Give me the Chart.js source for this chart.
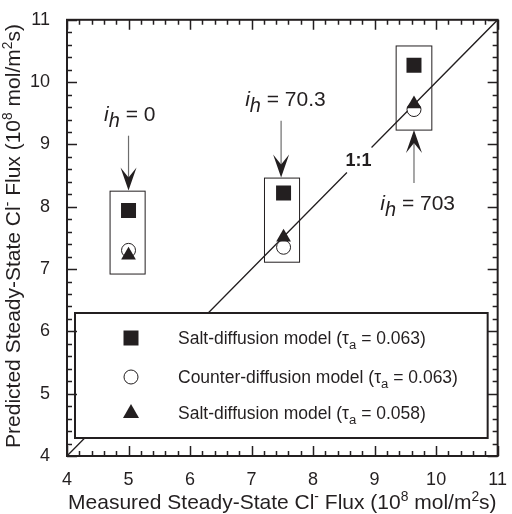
<!DOCTYPE html>
<html>
<head>
<meta charset="utf-8">
<script src="https://cdn.jsdelivr.net/npm/chart.js@4"></script>
<style>
  body { margin: 0; background: #fff; }
  canvas { display: block; }
</style>
</head>
<body>
<canvas id="chart" width="512" height="514"></canvas>
<script>
const FONT = '"Liberation Sans", Arial, Helvetica, sans-serif'
const INK = '#231f20'

// one group per i_h value
const groupLabels = ['0', '70.3', '703']
const measuredFlux = [5.0, 7.52, 9.64]
const saltFlux063 = [7.94, 8.22, 10.27]
const counterFlux063 = [7.30, 7.35, 9.56]
const saltFlux058 = [7.22, 7.51, 9.65]

// enclosing box around each group
const boxXMin = [4.70, 7.21, 9.35]
const boxXMax = [5.27, 7.78, 9.93]
const boxYMin = [6.92, 7.11, 9.23]
const boxYMax = [8.25, 8.46, 10.58]

// 1:1 reference line, broken where its label sits
const oneToOneX = [4, 8.55, 8.75, 8.95, 11]
const oneToOneY = [4, 8.55, null, 8.95, 11]

const legendLabels = [
  ['Salt-diffusion model (', '0.063)'],
  ['Counter-diffusion model (', '0.063)'],
  ['Salt-diffusion model (', '0.058)'],
]

const toPoints = (xs, ys) => xs.map((x, i) => ({ x, y: ys[i] }))

// draws a run of text pieces, some raised or lowered
function drawRich(ctx, parts, x, y, size, align) {
  const fontOf = (p) => `${p.italic ? 'italic ' : ''}${p.bold ? 'bold ' : ''}${(p.sup || p.sub) ? size * p.scale : size}px ${FONT}`
  let width = 0
  parts.forEach((p) => {
    p.scale = p.scale || (p.sub ? 0.72 : 0.66)
    ctx.font = fontOf(p)
    p.w = ctx.measureText(p.t).width
    width += p.w
  })
  let cx = align === 'center' ? x - width / 2 : x
  ctx.textAlign = 'left'
  ctx.textBaseline = 'alphabetic'
  parts.forEach((p) => {
    ctx.font = fontOf(p)
    let dy = 0
    if (p.sup) dy = -size * 0.4
    if (p.sub) dy = size * (p.drop || 0.25)
    ctx.fillText(p.t, cx, y + dy)
    cx += p.w
  })
}

function drawMarker(ctx, style, x, y) {
  ctx.save()
  ctx.fillStyle = INK
  ctx.strokeStyle = INK
  ctx.lineWidth = 1
  ctx.beginPath()
  if (style === 'rect') {
    ctx.rect(x - 7.5, y - 7.5, 15, 15)
    ctx.fill()
  } else if (style === 'circle') {
    ctx.arc(x, y, 7, 0, Math.PI * 2)
    ctx.fillStyle = '#fff'
    ctx.fill()
    ctx.stroke()
  } else {
    ctx.moveTo(x, y - 9)
    ctx.lineTo(x + 8, y + 5)
    ctx.lineTo(x - 8, y + 5)
    ctx.closePath()
    ctx.fill()
  }
  ctx.restore()
}

function drawArrow(ctx, x, yFrom, yTo) {
  const dir = yTo > yFrom ? 1 : -1
  ctx.save()
  ctx.strokeStyle = '#6d6d6d'
  ctx.lineWidth = 1.2
  ctx.beginPath()
  ctx.moveTo(x, yFrom)
  ctx.lineTo(x, yTo - dir * 12)
  ctx.stroke()
  ctx.fillStyle = INK
  ctx.beginPath()
  ctx.moveTo(x, yTo)
  ctx.lineTo(x - 8, yTo - dir * 23)
  ctx.lineTo(x, yTo - dir * 13)
  ctx.lineTo(x + 8, yTo - dir * 23)
  ctx.closePath()
  ctx.fill()
  ctx.restore()
}

const frameAndTicks = {
  id: 'frameAndTicks',
  afterDatasetsDraw(chart) {
    const { ctx, chartArea: a, scales: { x, y } } = chart
    ctx.save()
    ctx.strokeStyle = INK

    // group boxes
    ctx.lineWidth = 1
    groupLabels.forEach((g, i) => {
      const l = x.getPixelForValue(boxXMin[i])
      const r = x.getPixelForValue(boxXMax[i])
      const t = y.getPixelForValue(boxYMax[i])
      const b = y.getPixelForValue(boxYMin[i])
      ctx.strokeRect(l, t, r - l, b - t)
    })

    // arrows and i_h labels
    const notes = [
      { x: 5.0, from: 9.14, to: 8.26, lx: 5.02, ly: 9.37 },
      { x: 7.48, from: 9.38, to: 8.47, lx: 7.55, ly: 9.62 },
      { x: 9.64, from: 8.38, to: 9.23, lx: 9.70, ly: 7.95 },
    ]
    ctx.fillStyle = INK
    notes.forEach((n, i) => {
      drawArrow(ctx, x.getPixelForValue(n.x), y.getPixelForValue(n.from), y.getPixelForValue(n.to))
      drawRich(ctx, [
        { t: 'i', italic: true },
        { t: 'h', italic: true, sub: true, scale: 0.95, drop: 0.28 },
        { t: ' = ' + groupLabels[i] },
      ], x.getPixelForValue(n.lx), y.getPixelForValue(n.ly), 21, 'center')
    })

    ctx.textAlign = 'center'
    ctx.textBaseline = 'middle'
    ctx.font = `bold 18px ${FONT}`
    ctx.fillText('1:1', x.getPixelForValue(8.74), y.getPixelForValue(8.73))

    // legend panel
    const lx = a.left + 8, lt = 313, lw = a.width - 18, lh = 125
    ctx.fillStyle = '#fff'
    ctx.fillRect(lx, lt, lw, lh)
    ctx.lineWidth = 2
    ctx.strokeRect(lx, lt, lw, lh)
    const styles = ['rect', 'circle', 'triangle']
    const rows = [25, 64, 100]
    legendLabels.forEach((lab, i) => {
      const ry = lt + rows[i]
      drawMarker(ctx, styles[i], lx + 56, ry)
      ctx.fillStyle = INK
      drawRich(ctx, [
        { t: lab[0] },
        { t: '\u03c4' },
        { t: 'a', sub: true, scale: 0.75, drop: 0.3 },
        { t: ' = ' + lab[1] },
      ], lx + 103, ry + 6, 17.5, 'left')
    })

    // inward ticks on all four sides
    ctx.lineWidth = 1.5
    ctx.beginPath()
    for (let v = 4; v <= 11.001; v += 0.2) {
      const major = Math.abs(v - Math.round(v)) < 0.01
      const len = major ? 10 : 5
      const px = Math.round(x.getPixelForValue(v)) + 0.5
      const py = Math.round(y.getPixelForValue(v)) + 0.5
      ctx.moveTo(px, a.bottom); ctx.lineTo(px, a.bottom - len)
      ctx.moveTo(px, a.top); ctx.lineTo(px, a.top + len)
      ctx.moveTo(a.left, py); ctx.lineTo(a.left + len, py)
      ctx.moveTo(a.right, py); ctx.lineTo(a.right - len, py)
    }
    ctx.stroke()
    ctx.lineWidth = 2
    ctx.strokeRect(a.left, a.top, a.width, a.height)

    // axis titles
    const titleTail = [
      { t: '-', sup: true },
      { t: ' Flux (10' }, { t: '8', sup: true },
      { t: ' mol/m' }, { t: '2', sup: true }, { t: 's)' },
    ]
    ctx.fillStyle = INK
    drawRich(ctx, [{ t: 'Measured Steady-State Cl' }, ...titleTail.map((p) => ({ ...p }))],
      (a.left + a.right) / 2, 509, 21, 'center')
    ctx.translate(20, 236)
    ctx.rotate(-Math.PI / 2)
    drawRich(ctx, [{ t: 'Predicted Steady-State Cl' }, ...titleTail.map((p) => ({ ...p }))],
      0, 0, 21, 'center')
    ctx.restore()
  },
}

const axis = (pad) => ({
  type: 'linear',
  min: 4,
  max: 11,
  grid: { display: false },
  border: { display: false },
  ticks: {
    stepSize: 1,
    padding: pad,
    color: INK,
    font: { family: FONT, size: 18 },
    callback: (v) => v,
  },
})

new Chart(document.getElementById('chart'), {
  type: 'scatter',
  data: {
    datasets: [
      {
        label: 'Salt-diffusion model (0.063)',
        data: toPoints(measuredFlux, saltFlux063),
        pointStyle: 'rect',
        pointRadius: 10.6,
        backgroundColor: INK,
        borderColor: INK,
        borderWidth: 0,
        order: 2,
      },
      {
        label: 'Counter-diffusion model (0.063)',
        data: toPoints(measuredFlux, counterFlux063),
        pointStyle: 'circle',
        pointRadius: 7,
        backgroundColor: '#fff',
        borderColor: INK,
        borderWidth: 1,
        order: 1,
      },
      {
        label: 'Salt-diffusion model (0.058)',
        data: toPoints(measuredFlux, saltFlux058),
        pointStyle: 'triangle',
        pointRadius: 8.5,
        backgroundColor: INK,
        borderColor: INK,
        borderWidth: 0,
        order: 0,
      },
      {
        type: 'line',
        label: '1:1',
        data: toPoints(oneToOneX, oneToOneY),
        borderColor: INK,
        borderWidth: 1.3,
        pointRadius: 0,
        spanGaps: false,
        order: 3,
      },
    ],
  },
  options: {
    responsive: false,
    animation: false,
    devicePixelRatio: 1,
    layout: { padding: { top: 15, right: 5, left: 0, bottom: 0 } },
    scales: {
      x: { ...axis(5), afterFit: (s) => { s.height = 58 } },
      y: { ...axis(9), afterFit: (s) => { s.width = 67 } },
    },
    plugins: {
      legend: { display: false },
      tooltip: { enabled: false },
    },
  },
  plugins: [frameAndTicks],
})
</script>
</body>
</html>
